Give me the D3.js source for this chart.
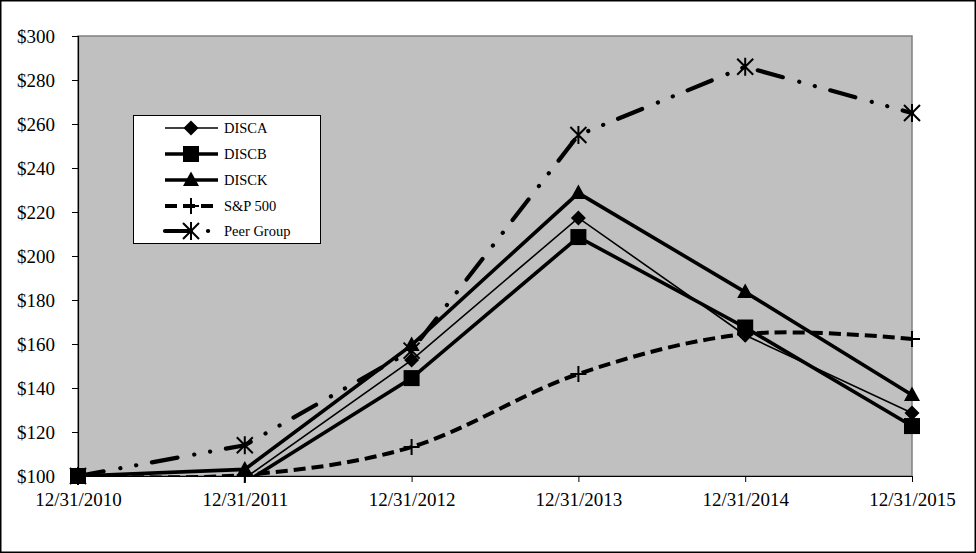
<!DOCTYPE html>
<html>
<head>
<meta charset="utf-8">
<script src="https://cdn.jsdelivr.net/npm/d3@7"></script>
<style>
  html, body { margin: 0; padding: 0; background: #fff; }
  svg { display: block; }
  text { font-family: "Liberation Serif", "Times New Roman", serif; fill: #000; }
</style>
</head>
<body>
<svg id="chart" width="976" height="553"></svg>
<script>
const categories = ["12/31/2010", "12/31/2011", "12/31/2012", "12/31/2013", "12/31/2014", "12/31/2015"];
const disca = [100, 99, 152.7, 217.3, 164, 128.6];
const discb = [100, 97, 144.5, 208.6, 167.5, 122.7];
const disck = [100, 103, 159.5, 228.6, 183.6, 136.8];
const sp500 = [100, 100.5, 113.2, 146.4, 164.5, 162.3];
const peer  = [100, 114, 157, 255, 286, 265];
const yTicks = [100, 120, 140, 160, 180, 200, 220, 240, 260, 280, 300];
const seriesNames = ["DISCA", "DISCB", "DISCK", "S&P 500", "Peer Group"];

const series = [
  { name: seriesNames[0], values: disca, width: 1.6, dash: null, marker: "diamond", curve: d3.curveLinear },
  { name: seriesNames[1], values: discb, width: 3.6, dash: null, marker: "square", curve: d3.curveLinear },
  { name: seriesNames[2], values: disck, width: 3.6, dash: null, marker: "triangle", curve: d3.curveLinear },
  { name: seriesNames[3], values: sp500, width: 4, dash: "12,6", marker: "plus", curve: d3.curveCatmullRom.alpha(0) },
  { name: seriesNames[4], values: peer, width: 4.2, dash: "26,17,0.1,16,0.1,16", cap: "round", marker: "asterisk", curve: d3.curveLinear }
];
// drawing order in the plot (legend keeps the series order)
const drawOrder = [4, 3, 2, 0, 1];

const svg = d3.select("#chart");
const L = 78, R = 912, T = 36, B = 476;

const x = d3.scalePoint().domain(categories).range([L, R]);
const y = d3.scaleLinear().domain([100, 300]).range([B, T]);

// outer frame
svg.append("rect").attr("x", 0.75).attr("y", 0.75).attr("width", 974.5).attr("height", 551.5)
  .attr("fill", "#fff").attr("stroke", "#000").attr("stroke-width", 1.5);

// plot area
svg.append("rect").attr("x", L).attr("y", T).attr("width", R - L).attr("height", B - T)
  .attr("fill", "#c0c0c0").attr("stroke", "#808080").attr("stroke-width", 1.5);

svg.append("defs").append("clipPath").attr("id", "clip")
  .append("rect").attr("x", L - 20).attr("y", T - 20).attr("width", R - L + 40).attr("height", B - T + 20);

// axes
const yAxis = d3.axisLeft(y).tickValues(yTicks).tickSize(6).tickPadding(17).tickFormat(d => "$" + d);
const gy = svg.append("g").attr("transform", `translate(${L},0)`).call(yAxis);
gy.select(".domain").attr("stroke", "#000").attr("stroke-width", 1.2);
gy.selectAll(".tick line").attr("stroke", "#000").attr("stroke-width", 1);
gy.selectAll("text").style("font-family", "Liberation Serif").style("font-size", "19px").attr("fill", "#000");

const xAxis = d3.axisBottom(x).tickSize(6).tickPadding(11).tickSizeOuter(0);
const gx = svg.append("g").attr("transform", `translate(0,${B})`).call(xAxis);
gx.select(".domain").attr("stroke", "#000").attr("stroke-width", 1.2);
gx.selectAll(".tick line").attr("stroke", "#000").attr("stroke-width", 1);
gx.selectAll("text").style("font-family", "Liberation Serif").style("font-size", "19px").attr("fill", "#000");

function drawMarker(g, type, cx, cy) {
  if (type === "diamond") {
    g.append("path").attr("d", `M${cx},${cy - 7.5}L${cx + 7.5},${cy}L${cx},${cy + 7.5}L${cx - 7.5},${cy}Z`).attr("fill", "#000");
  } else if (type === "square") {
    g.append("rect").attr("x", cx - 8).attr("y", cy - 8).attr("width", 16).attr("height", 16).attr("fill", "#000");
  } else if (type === "triangle") {
    g.append("path").attr("d", `M${cx},${cy - 8.5}L${cx + 8},${cy + 6}L${cx - 8},${cy + 6}Z`).attr("fill", "#000");
  } else if (type === "plus") {
    g.append("path").attr("d", `M${cx - 8},${cy}H${cx + 8}M${cx},${cy - 8}V${cy + 8}`)
      .attr("stroke", "#000").attr("stroke-width", 2).attr("fill", "none");
  } else if (type === "asterisk") {
    const s = 8;
    g.append("path").attr("d", `M${cx - s},${cy - s}L${cx + s},${cy + s}M${cx + s},${cy - s}L${cx - s},${cy + s}M${cx},${cy - s - 1}V${cy + s + 1}`)
      .attr("stroke", "#000").attr("stroke-width", 2).attr("fill", "none");
  }
}

const linesG = svg.append("g").attr("clip-path", "url(#clip)");
const markersG = svg.append("g");
drawOrder.forEach(k => {
  const s = series[k];
  const line = d3.line().x((d, i) => x(categories[i])).y(d => y(d)).curve(s.curve);
  linesG.append("path").datum(s.values).attr("d", line).attr("fill", "none").attr("stroke", "#000")
    .attr("stroke-width", s.width).attr("stroke-dasharray", s.dash).attr("stroke-linecap", s.cap || "butt")
    .attr("stroke-linejoin", "miter");
});
drawOrder.forEach(k => {
  const s = series[k];
  const g = markersG.append("g");
  // points outside the axis range are not marked
  s.values.forEach((v, i) => { if (v >= y.domain()[0]) drawMarker(g, s.marker, x(categories[i]), y(v)); });
});

// legend
const lg = svg.append("g");
lg.append("rect").attr("x", 133.5).attr("y", 115.5).attr("width", 187).attr("height", 128)
  .attr("fill", "#fff").attr("stroke", "#000").attr("stroke-width", 1);
const rowY = [128, 154, 180, 206, 231];
series.forEach((s, i) => {
  const yy = rowY[i];
  lg.append("line").attr("x1", 165).attr("x2", 218).attr("y1", yy).attr("y2", yy)
    .attr("stroke", "#000").attr("stroke-width", s.width).attr("stroke-dasharray", s.dash)
    .attr("stroke-linecap", s.cap || "butt");
  drawMarker(lg, s.marker, 191, yy);
  lg.append("text").attr("x", 224).attr("y", yy + 5).style("font-size", "14.5px").text(s.name);
});
</script>
</body>
</html>
